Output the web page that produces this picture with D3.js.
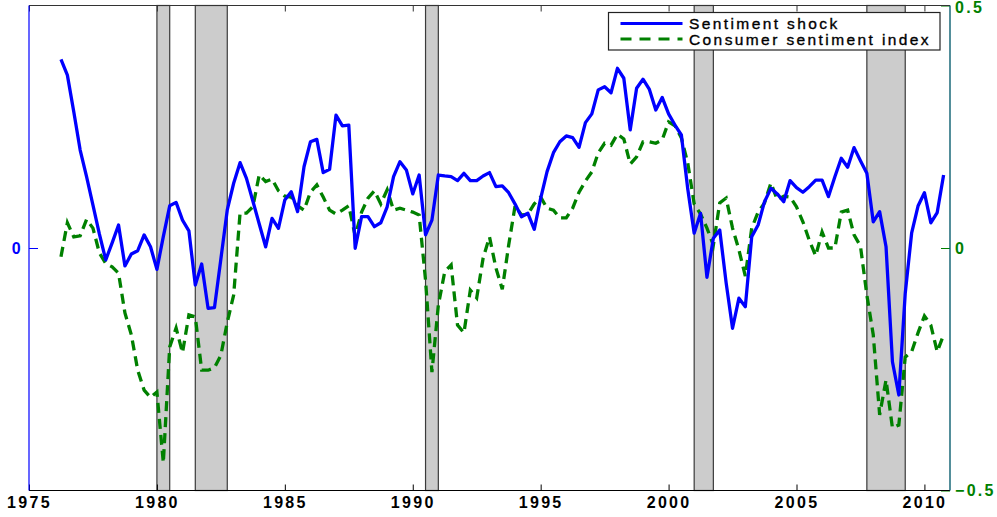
<!DOCTYPE html>
<html>
<head>
<meta charset="utf-8">
<script src="https://cdn.jsdelivr.net/npm/d3@7"></script>
<style>
  body { margin: 0; background: #fff; }
  text { font-family: "Liberation Sans", Arial, Helvetica, sans-serif; }
</style>
</head>
<body>
<svg id="chart" width="997" height="517"></svg>
<script>
// quarterly series, first observation 1976Q2
var firstQuarter = 1976.25;

// sentiment shock (left axis, blue)
var sentimentShock = [
  0.778, 0.713, 0.562, 0.404, 0.294, 0.177, 0.058, -0.049, 0.021, 0.095,
  -0.074, -0.025, -0.011, 0.054, 0.005, -0.088, 0.047, 0.174, 0.188, 0.115,
  0.071, -0.153, -0.066, -0.249, -0.246, -0.045, 0.157, 0.267, 0.352, 0.287,
  0.194, 0.099, 0.005, 0.122, 0.081, 0.198, 0.232, 0.150, 0.335, 0.438,
  0.448, 0.311, 0.325, 0.548, 0.504, 0.507, -0.001, 0.129, 0.129, 0.088,
  0.104, 0.170, 0.294, 0.356, 0.322, 0.223, 0.301, 0.054, 0.115, 0.301,
  0.297, 0.294, 0.278, 0.308, 0.278, 0.278, 0.297, 0.311, 0.253, 0.256,
  0.228, 0.181, 0.129, 0.143, 0.077, 0.205, 0.315, 0.393, 0.438, 0.462,
  0.455, 0.415, 0.517, 0.553, 0.652, 0.665, 0.640, 0.741, 0.700, 0.487,
  0.659, 0.696, 0.654, 0.569, 0.621, 0.553, 0.507, 0.466, 0.243, 0.061,
  0.143, -0.121, 0.040, 0.074, -0.144, -0.331, -0.207, -0.242, 0.047, 0.095,
  0.191, 0.246, 0.223, 0.191, 0.278, 0.249, 0.230, 0.253, 0.280, 0.280,
  0.212, 0.294, 0.370, 0.333, 0.414, 0.360, 0.308, 0.108, 0.150, 0.005,
  -0.469, -0.606, -0.187, 0.061, 0.173, 0.228, 0.104, 0.146, 0.301
];

// consumer sentiment index (right axis, green)
var consumerSentiment = [
  -0.018, 0.052, 0.023, 0.025, 0.059, 0.041, -0.010, -0.032, -0.039, -0.052,
  -0.134, -0.179, -0.252, -0.293, -0.308, -0.297, -0.443, -0.204, -0.165, -0.216,
  -0.138, -0.142, -0.252, -0.252, -0.247, -0.221, -0.153, -0.097, 0.072, 0.072,
  0.085, 0.151, 0.137, 0.142, 0.118, 0.107, 0.105, 0.087, 0.078, 0.115,
  0.130, 0.105, 0.078, 0.070, 0.078, 0.087, 0.025, 0.074, 0.103, 0.118,
  0.091, 0.120, 0.078, 0.082, 0.078, 0.074, 0.068, -0.066, -0.256, -0.118,
  -0.049, -0.035, -0.159, -0.175, -0.087, -0.103, -0.021, 0.023, -0.041, -0.085,
  0.006, 0.087, 0.068, 0.070, 0.091, 0.105, 0.082, 0.078, 0.062, 0.062,
  0.082, 0.115, 0.138, 0.157, 0.196, 0.216, 0.212, 0.235, 0.225, 0.173,
  0.188, 0.219, 0.219, 0.216, 0.223, 0.260, 0.252, 0.227, 0.175, 0.091,
  0.070, 0.041, 0.006, 0.093, 0.103, 0.041, -0.004, -0.058, 0.041, 0.074,
  0.093, 0.134, 0.099, 0.107, 0.105, 0.085, 0.054, 0.016, -0.016, 0.033,
  0.000, 0.000, 0.074, 0.078, 0.027, 0.004, -0.097, -0.179, -0.344, -0.272,
  -0.371, -0.365, -0.225, -0.214, -0.175, -0.140, -0.159, -0.214, -0.179
];

// NBER recessions (shaded)
var recessionStart = [1980.0, 1981.5, 1990.5, 2001.0, 2007.75];
var recessionEnd   = [1980.5, 1982.75, 1991.0, 2001.75, 2009.25];

var yearTicks = [1975, 1980, 1985, 1990, 1995, 2000, 2005, 2010];
var leftTicks = [0];
var rightTicks = [-0.5, 0, 0.5];
var rightTickLabels = ["\u22120.5", "0", "0.5"];
var seriesNames = ["Sentiment shock", "Consumer sentiment index"];

var blue = "#0000ff", green = "#008000";
var plotL = 29, plotR = 950, plotT = 5.5, plotB = 490.5;

var svg = d3.select("#chart");

var x = d3.scaleLinear().domain([1975, 2011]).range([plotL, plotR]);
var yL = d3.scaleLinear().domain([-1, 1]).range([plotB, plotT]);
var yR = d3.scaleLinear().domain([-0.5, 0.5]).range([plotB, plotT]);

// recession bands
svg.append("g").selectAll("rect")
  .data(recessionStart)
  .enter().append("rect")
  .attr("x", function(d) { return x(d); })
  .attr("y", plotT)
  .attr("width", function(d, i) { return x(recessionEnd[i]) - x(d); })
  .attr("height", plotB - plotT)
  .attr("fill", "#cccccc")
  .attr("stroke", "#3a3a3a")
  .attr("stroke-width", 1.2);

var quarter = function(i) { return firstQuarter + i / 4; };

// lines
var lineL = d3.line()
  .x(function(d, i) { return x(quarter(i)); })
  .y(function(d) { return yL(d); });
var lineR = d3.line()
  .x(function(d, i) { return x(quarter(i)); })
  .y(function(d) { return yR(d); });

svg.append("path")
  .datum(consumerSentiment)
  .attr("d", lineR)
  .attr("fill", "none")
  .attr("stroke", green)
  .attr("stroke-width", 3.3)
  .attr("stroke-dasharray", "10,6");

svg.append("path")
  .datum(sentimentShock)
  .attr("d", lineL)
  .attr("fill", "none")
  .attr("stroke", blue)
  .attr("stroke-width", 3.3)
  .attr("stroke-linejoin", "round");

// axes
function styleAxis(g, color) {
  g.select(".domain").remove();
  g.selectAll(".tick line").attr("stroke", color);
  g.selectAll(".tick text")
    .attr("fill", color)
    .style("font-size", "16px")
    .style("font-weight", "bold")
    .style("letter-spacing", "2.3px");
}

svg.append("g")
  .attr("transform", "translate(0," + plotB + ")")
  .call(d3.axisBottom(x).tickValues(yearTicks).tickSize(-6).tickPadding(6).tickFormat(d3.format("d")))
  .call(styleAxis, "#000");

svg.append("g")
  .attr("transform", "translate(0," + plotT + ")")
  .call(d3.axisTop(x).tickValues(yearTicks).tickSize(-6).tickFormat(""))
  .call(styleAxis, "#333");

svg.append("g")
  .attr("transform", "translate(" + plotL + ",0)")
  .call(d3.axisLeft(yL).tickValues(leftTicks).tickSize(-9).tickPadding(6).tickFormat(d3.format("d")))
  .call(styleAxis, blue);

var rightAxis = svg.append("g")
  .attr("transform", "translate(" + plotR + ",0)")
  .call(d3.axisRight(yR).tickValues(rightTicks).tickSize(-9).tickPadding(5)
    .tickFormat(function(d, i) { return rightTickLabels[i]; }))
  .call(styleAxis, green);

// keep the top label inside the picture
rightAxis.selectAll(".tick text")
  .attr("y", function(d) { return d === 0.5 ? 1.5 : 0; });

// frame
svg.append("line").attr("x1", plotL).attr("x2", plotR).attr("y1", plotT).attr("y2", plotT)
  .attr("stroke", "#333").attr("stroke-width", 1.2);
svg.append("line").attr("x1", plotL).attr("x2", plotR).attr("y1", plotB).attr("y2", plotB)
  .attr("stroke", "#000").attr("stroke-width", 1.2);
svg.append("line").attr("x1", plotL).attr("x2", plotL).attr("y1", plotT).attr("y2", plotB)
  .attr("stroke", blue).attr("stroke-width", 1.2);
svg.append("line").attr("x1", plotR).attr("x2", plotR).attr("y1", plotT).attr("y2", plotB)
  .attr("stroke", "#0b5f70").attr("stroke-width", 1.4);

// legend
var legend = svg.append("g").attr("transform", "translate(608.5,12.5)");
legend.append("rect")
  .attr("width", 331.5).attr("height", 37.5)
  .attr("fill", "#fff").attr("stroke", "#222").attr("stroke-width", 1.2);

var rows = legend.selectAll("g.row")
  .data(seriesNames)
  .enter().append("g")
  .attr("class", "row")
  .attr("transform", function(d, i) { return "translate(0," + (11 + i * 15.5) + ")"; });

rows.append("line")
  .attr("x1", 12).attr("x2", 74)
  .attr("stroke", function(d, i) { return i === 0 ? blue : green; })
  .attr("stroke-width", 3)
  .attr("stroke-dasharray", function(d, i) { return i === 0 ? null : "11,8"; });

rows.append("text")
  .attr("x", 80.5)
  .attr("dy", "0.36em")
  .attr("fill", "#000")
  .attr("stroke", "#000")
  .attr("stroke-width", 0.35)
  .style("font-size", "15.5px")
  .style("letter-spacing", "2.4px")
  .text(function(d) { return d; });
</script>
</body>
</html>
